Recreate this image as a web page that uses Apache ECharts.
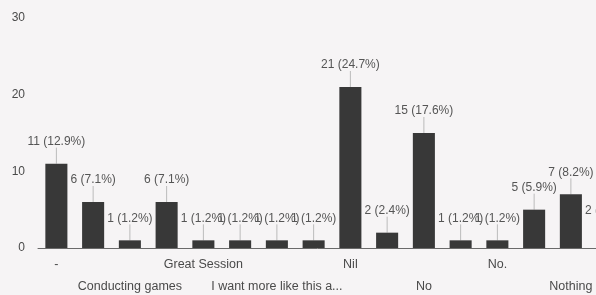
<!DOCTYPE html>
<html>
<head>
<meta charset="utf-8">
<script src="https://cdn.jsdelivr.net/npm/echarts@6/dist/echarts.min.js"></script>
<style>
html,body{margin:0;padding:0;background:#f6f4f5;}
#c{width:596px;height:295px;}
</style>
</head>
<body>
<div id="c"></div>
<script>
var categories = ["-", "Best", "Conducting games", "Good", "Great Session", "Helpful", "I want more like this activity", "It was good", "Nil", "Nill", "No", "No comments", "No.", "Nope", "Nothing", "Nothing to say"];
var counts = [11, 6, 1, 6, 1, 1, 1, 1, 21, 2, 15, 1, 1, 5, 7, 2];
var percents = ["12.9", "7.1", "1.2", "7.1", "1.2", "1.2", "1.2", "1.2", "24.7", "2.4", "17.6", "1.2", "1.2", "5.9", "8.2", "2.4"];
var yTicks = [0, 10, 20, 30];

var chart = echarts.init(document.getElementById('c'));
chart.setOption({
  backgroundColor: '#f6f4f5',
  animation: false,
  grid: {left: 38, top: 18, bottom: 47, right: -30, containLabel: false, outerBoundsMode: 'none'},
  xAxis: {
    type: 'category',
    data: categories,
    axisLine: {show: true, lineStyle: {color: '#6a6a6a', width: 1}},
    axisTick: {show: false},
    axisLabel: {
      interval: 0,
      color: '#4a4a4a',
      fontFamily: 'Liberation Sans, Arial, sans-serif',
      fontSize: 12.5,
      lineHeight: 22,
      margin: 6,
      formatter: function (v, i) {
        if (i % 2 === 1) return '';
        var t = v.length > 23 ? v.slice(0, 23) + '...' : v;
        return (i % 4 === 2) ? '\n' + t : t;
      }
    }
  },
  yAxis: {
    type: 'value',
    min: yTicks[0],
    max: yTicks[yTicks.length - 1],
    interval: 10,
    splitLine: {show: false},
    axisLine: {show: false},
    axisTick: {show: false},
    axisLabel: {color: '#4a4a4a', fontSize: 12, margin: 13, fontFamily: 'Liberation Sans, Arial, sans-serif'}
  },
  series: [{
    type: 'bar',
    data: counts,
    barWidth: '60%',
    itemStyle: {color: '#383838'},
    label: {
      show: true,
      position: 'top',
      distance: 2,
      color: '#555',
      fontSize: 12,
      fontFamily: 'Liberation Sans, Arial, sans-serif',
      formatter: function (p) { return p.value + ' (' + percents[p.dataIndex] + '%)'; }
    },
    labelLayout: {dy: -14},
    labelLine: {show: true, lineStyle: {color: '#bbb', width: 1}}
  }]
});
</script>
</body>
</html>
